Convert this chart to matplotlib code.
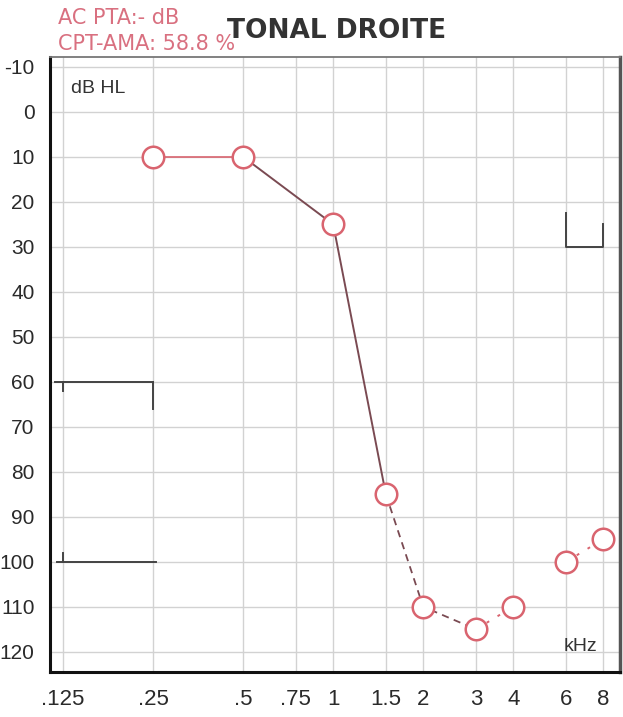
import matplotlib
matplotlib.use("Agg")
import matplotlib.pyplot as plt

# Audiogram data (right ear, air conduction)
freq_ticks = [0.125, 0.25, 0.5, 0.75, 1, 1.5, 2, 3, 4, 6, 8]
freq_labels = [".125", ".25", ".5", ".75", "1", "1.5", "2", "3", "4", "6", "8"]
db_ticks = list(range(-10, 121, 10))
db_labels = [str(v) for v in db_ticks]

ac_freq = [0.25, 0.5, 1, 1.5, 2, 3, 4, 6, 8]
ac_db = [10, 10, 25, 85, 110, 115, 110, 100, 95]

# Masking brackets: (freqs, levels)
mask_low_60 = ([0.117, 0.25], [60, 60])
mask_low_60_tick_a = ([0.125, 0.125], [60, 62])
mask_low_60_tick_b = ([0.25, 0.25], [60, 66])
mask_low_100 = ([0.119, 0.256], [100, 100])
mask_low_100_tick = ([0.125, 0.125], [100, 98])
mask_high = ([6, 6, 8, 8], [22.5, 30, 30, 25])

tick_font = "Liberation Sans"

fig = plt.figure(figsize=(6.23, 7.17), dpi=100)
ax = fig.add_axes([50 / 623, 1 - 672 / 717, 570 / 623, 615 / 717])

ax.set_xscale("log")
ax.set_xlim(0.113, 9.1)
ax.set_ylim(124.5, -12.2)

ax.set_xticks(freq_ticks)
ax.set_xticklabels(freq_labels)
ax.minorticks_off()
ax.set_yticks(db_ticks)
ax.set_yticklabels(db_labels)

ax.grid(True, color="#d2d2d2", linewidth=1.0)
ax.set_axisbelow(True)
ax.tick_params(length=0, labelcolor="#2a2a2a")
ax.tick_params(axis="y", pad=11)
ax.tick_params(axis="x", pad=12)
for lab in ax.get_xticklabels():
    lab.set_fontfamily(tick_font)
    lab.set_fontsize(16)
for lab in ax.get_yticklabels():
    lab.set_fontfamily(tick_font)
    lab.set_fontsize(15)

for side in ("left", "bottom"):
    ax.spines[side].set_linewidth(2.2)
    ax.spines[side].set_color("#111111")
ax.spines["right"].set_linewidth(2.5)
ax.spines["right"].set_color("#555555")
ax.spines["top"].set_linewidth(1.3)
ax.spines["top"].set_color("#777777")

red = "#d9646f"
dark = "#7a4a52"

# Connecting lines between thresholds
ax.plot(ac_freq[0:2], ac_db[0:2], color=red, lw=1.2, zorder=3)
ax.plot(ac_freq[1:4], ac_db[1:4], color=dark, lw=1.4, zorder=3)
ax.plot(ac_freq[3:6], ac_db[3:6], color=dark, lw=1.3, ls=(0, (4, 3)), zorder=3)
ax.plot(ac_freq[5:7], ac_db[5:7], color=red, lw=1.4, ls=(0, (1.5, 5)), zorder=3)
ax.plot(ac_freq[7:9], ac_db[7:9], color=red, lw=1.4, ls=(0, (1.5, 5)), zorder=3)

# Threshold markers
ax.plot(ac_freq, ac_db, ls="none", marker="o", ms=15.5, mfc="white",
        mec=red, mew=1.8, zorder=4)

# Masking brackets
for xs, ys in (mask_low_60, mask_low_60_tick_a, mask_low_60_tick_b,
               mask_low_100, mask_low_100_tick, mask_high):
    ax.plot(xs, ys, color="#444444", lw=1.4, zorder=3)

ax.text(0.036, 0.948, "dB HL", transform=ax.transAxes, fontsize=14,
        family=tick_font, color="#333333", va="center", ha="left")
ax.text(0.93, 0.042, "kHz", transform=ax.transAxes, fontsize=14,
        family=tick_font, color="#333333", va="center", ha="center")

fig.text(58 / 623, 1 - 18 / 717, "AC PTA:- dB", fontsize=15, family="DejaVu Sans",
         color="#d97080", va="center", ha="left")
fig.text(58 / 623, 1 - 44 / 717, "CPT-AMA: 58.8 %", fontsize=15, family="DejaVu Sans",
         color="#d97080", va="center", ha="left")
fig.text(337 / 623, 1 - 31 / 717, "TONAL DROITE", fontsize=19, family="DejaVu Sans",
         weight="bold", color="#333333", va="center", ha="center")

fig.savefig("out.png", dpi=100, facecolor="white")
